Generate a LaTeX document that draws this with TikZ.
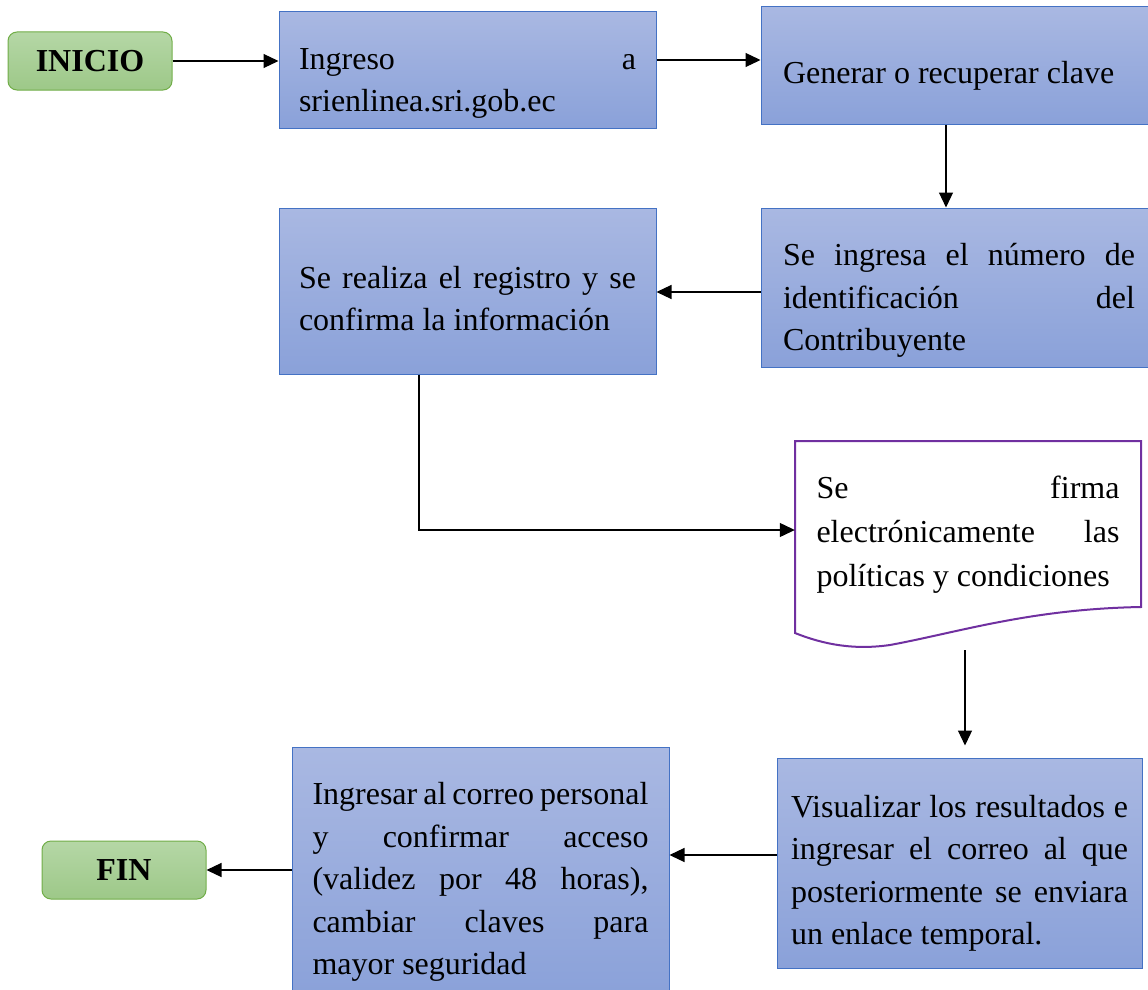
\documentclass[tikz,border=0pt]{standalone}
\usepackage{fontspec}
\setmainfont{Liberation Serif}
\usepackage{xcolor}
\usetikzlibrary{arrows.meta, positioning, calc}
\definecolor{boxtop}{HTML}{A9B8E2}
\definecolor{boxbot}{HTML}{8AA1D9}
\definecolor{boxline}{HTML}{4472C4}
\definecolor{termtop}{HTML}{B5D7A6}
\definecolor{termbot}{HTML}{9DC888}
\definecolor{termline}{HTML}{70AD47}
\definecolor{docline}{HTML}{7030A0}
\tolerance=10000 \hbadness=10000 \hyphenpenalty=10000 \exhyphenpenalty=10000
\newcommand\boxgap[1]{\par\vspace*{#1}}

\begin{document}
\begin{tikzpicture}[x=1pt, y=-1pt,
    box/.style={draw=boxline, line width=1pt, top color=boxtop, bottom color=boxbot,
                text width=#1, align=justify, inner xsep=20pt, inner ysep=0pt,
                font=\fontsize{32}{42.5}\selectfont},
    textdrop/.style={execute at begin node={\boxgap{#1}}},
    term/.style={draw=termline, line width=1pt, rounded corners=9pt,
                 top color=termtop, bottom color=termbot,
                 minimum width=164pt, minimum height=58pt,
                 font=\fontsize{32}{38}\selectfont\bfseries},
    flow/.style={-{Triangle[length=15pt, width=14pt]}, line width=1.2pt},
]
    \useasboundingbox (0,0) rectangle (1148,990);

    % === first row ===
    \node[term] (inicio) at (90, 61) {INICIO};
    \node[box=337pt, textdrop=5pt, minimum width=377pt, minimum height=116pt] (ingreso) at (467.5, 70)
        {Ingreso a\linebreak srienlinea.sri.gob.ec};
    \node[box=352pt, textdrop=1pt, minimum width=396pt, minimum height=117pt, inner xsep=22pt] (generar) at (959, 65.5)
        {Generar o recuperar clave};

    % === second row ===
    \node[box=352pt, textdrop=6pt, minimum width=396pt, minimum height=159pt, inner xsep=22pt] (ingresa) at (959, 287.5)
        {Se ingresa el número de\linebreak identificación del\linebreak Contribuyente};
    \node[box=337pt, textdrop=-5pt, minimum width=377pt, minimum height=166pt] (registro) at (467.5, 291)
        {Se realiza el registro y se\linebreak confirma la información};

    % === document ===
    \draw[docline, line width=2pt, fill=white]
        (795, 441) -- (1141, 441) -- (1141, 607)
        .. controls (1030, 609) and (960, 632) .. (890, 645)
        .. controls (855, 650) and (825, 645) .. (795, 633) -- cycle;
    \node[text width=303pt, align=justify, inner xsep=21.5pt,
          font=\fontsize{32}{44}\selectfont] (firma) at (968, 535)
        {Se firma\linebreak electrónicamente las\linebreak políticas y condiciones};
    \coordinate (firmabot) at (965, 650);

    % === last row ===
    \node[box=337pt, textdrop=0.5pt, minimum width=365pt, minimum height=210pt, inner xsep=14pt] (visual) at (959.5, 863)
        {Visualizar los resultados e\linebreak ingresar el correo al que\linebreak posteriormente se enviara\linebreak un enlace temporal.};
    \node[box=336pt, textdrop=-2.5pt, minimum width=377pt, minimum height=252pt] (correo) at (480.5, 873)
        {Ingresar al correo personal\linebreak y confirmar acceso\linebreak (validez por 48 horas),\linebreak cambiar claves para\linebreak mayor seguridad};
    \node[term] (fin) at (124, 870) {FIN};

    % === connectors ===
    \draw[flow] (inicio.east) -- (inicio.east -| ingreso.west);
    \draw[flow] ([yshift=10pt]ingreso.east) -- ([yshift=10pt]ingreso.east -| generar.west);
    \draw[flow] ([xshift=-13pt]generar.south) -- ([xshift=-13pt]generar.south |- ingresa.north);
    \draw[flow] ([yshift=-4.5pt]ingresa.west) -- ([yshift=-4.5pt]ingresa.west -| registro.east);
    \draw[flow] ([xshift=-48.5pt]registro.south) |- ([yshift=5pt]firma.west);
    \draw[flow, shorten >=12pt] (firmabot) -- (firmabot |- visual.north);
    \draw[flow] ([yshift=8pt]visual.west) -- ([yshift=8pt]visual.west -| correo.east);
    \draw[flow] (fin.east -| correo.west) -- (fin.east);
\end{tikzpicture}
\end{document}
